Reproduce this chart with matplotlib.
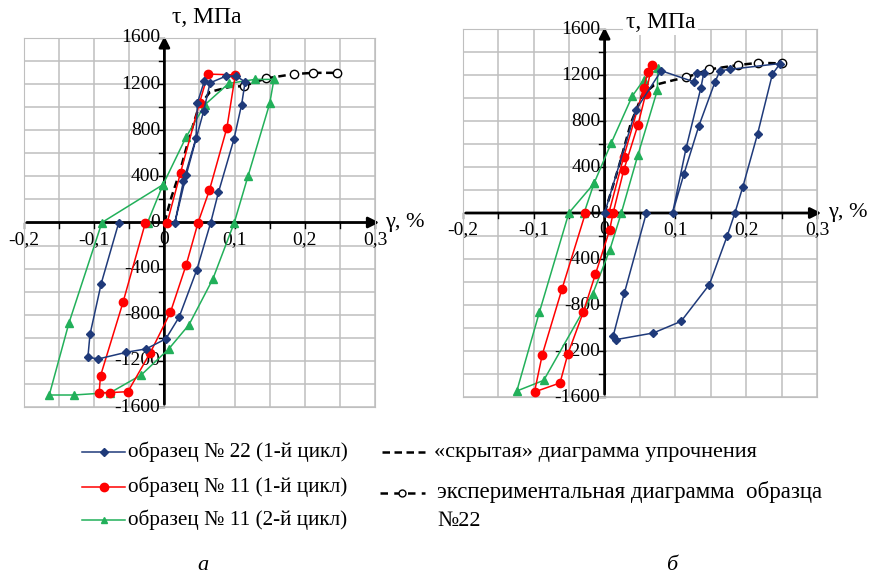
import numpy as np
import matplotlib
matplotlib.use("Agg")
import matplotlib.pyplot as plt

plt.rcParams['font.family'] = ['Liberation Serif', 'DejaVu Serif']

# ---- panel a ----
blue_a_x = [0.057, 0.047, 0.045, 0.027, 0.015, 0.031, 0.056, 0.065, 0.088, 0.102, 0.115, 0.110,
            0.099, 0.077, 0.066, 0.046, 0.021, 0.002, -0.026, -0.054, -0.094, -0.109, -0.106,
            -0.090, -0.065]
blue_a_y = [1229, 1037, 733, 357, 0, 409, 968, 1211, 1270, 1270, 1220, 1023,
            721, 262, 0, -413, -820, -1009, -1096, -1125, -1183, -1169, -971,
            -529, 0]

red_a_x = [0.004, 0.023, 0.050, 0.062, 0.101, 0.089, 0.064, 0.048, 0.031, 0.0085, -0.020,
           -0.052, -0.077, -0.093, -0.091, -0.059, -0.027]
red_a_y = [0, 432, 1037, 1287, 1280, 820, 278, 0, -368, -780, -1128,
           -1467, -1475, -1475, -1330, -693, 0]

green_a_x = [-0.024, -0.002, 0.031, 0.058, 0.0915, 0.129, 0.156, 0.150, 0.119, 0.0996, 0.069,
             0.035, 0.006, -0.033, -0.077, -0.129, -0.164, -0.136, -0.089, -0.002]
green_a_y = [0, 328, 742, 1023, 1206, 1241, 1241, 1032, 400, 0, -490,
             -887, -1098, -1322, -1475, -1496, -1496, -872, 0, 328]

hidden_a_x = [0.0, 0.010, 0.022, 0.035, 0.049, 0.065, 0.094, 0.113]
hidden_a_y = [0, 220, 440, 730, 1003, 1133, 1177, 1183]

exper_a_x = [0.113, 0.145, 0.184, 0.212, 0.246]
exper_a_y = [1183, 1250, 1287, 1298, 1298]

# ---- panel b ----
blue_b_x = [0.0, 0.044, 0.080, 0.126, 0.130, 0.140, 0.136, 0.115, 0.096, 0.112, 0.133, 0.156,
            0.163, 0.177, 0.248, 0.237, 0.216, 0.195, 0.184, 0.173, 0.148, 0.108, 0.069,
            0.016, 0.012, 0.028, 0.059]
blue_b_y = [0, 895, 1237, 1141, 1219, 1214, 1089, 561, 0, 338, 755, 1141,
            1237, 1249, 1300, 1208, 686, 222, 0, -202, -622, -942, -1043,
            -1101, -1072, -695, 0]

red_b_x = [0.006, 0.027, 0.055, 0.061, 0.067, 0.058, 0.047, 0.027, 0.012, 0.007, -0.013,
           -0.030, -0.052, -0.063, -0.099, -0.088, -0.060, -0.027]
red_b_y = [0, 488, 1083, 1228, 1286, 1034, 764, 372, 0, -150, -533,
           -860, -1228, -1478, -1556, -1231, -657, 0]

green_b_x = [-0.029, -0.015, 0.0095, 0.039, 0.055, 0.075, 0.0745, 0.047, 0.0236, 0.0075,
             -0.017, -0.086, -0.124, -0.092, -0.0505, -0.015]
green_b_y = [0, 257, 610, 1016, 1155, 1257, 1068, 503, 0, -318,
             -707, -1455, -1548, -860, 0, 257]

hidden_b_x = [0.0, 0.020, 0.037, 0.053, 0.070, 0.098, 0.115]
hidden_b_y = [0, 401, 779, 1025, 1112, 1156, 1179]

exper_b_x = [0.115, 0.148, 0.188, 0.217, 0.250]
exper_b_y = [1179, 1249, 1286, 1306, 1301]

x_labels = ['-0,2', '-0,1', '0', '0,1', '0,2', '0,3']
x_label_pos = [-0.2, -0.1, 0.0, 0.1, 0.2, 0.3]
y_label_pos = [1600, 1200, 800, 400, 0, -400, -800, -1200, -1600]

c_blue = '#1F3A7A'
c_red = '#FF0000'
c_green = '#22B05A'
grid_c = '#BFBFBF'

fig = plt.figure(figsize=(8.73, 5.76), dpi=100)

# background axes for legend / captions (pixel coords)
leg = fig.add_axes([0, 0, 1, 1])
leg.set_xlim(0, 873)
leg.set_ylim(576, 0)
leg.axis('off')

ax_a = fig.add_axes([24 / 873, 1 - 407 / 576, 351 / 873, 369 / 576])
ax_b = fig.add_axes([463 / 873, 1 - 397 / 576, 354 / 873, 368 / 576])


def style_axes(ax, title_x, title_y):
    ax.set_xlim(-0.2, 0.3)
    ax.set_ylim(-1600, 1600)
    ax.set_xticks(np.arange(-0.2, 0.301, 0.05))
    ax.set_yticks(np.arange(-1600, 1601, 200))
    ax.grid(True, color=grid_c, lw=1.1)
    ax.tick_params(length=0, labelbottom=False, labelleft=False)
    for s in ax.spines.values():
        s.set_color(grid_c)
    ax.set_axisbelow(True)
    ax.patch.set_alpha(0)

    # black axes with arrows
    ax.annotate('', xy=(0.31, 0), xytext=(-0.2, 0),
                arrowprops=dict(arrowstyle='-|>', color='black', lw=2, mutation_scale=16),
                annotation_clip=False, zorder=2)
    ax.annotate('', xy=(0, 1640), xytext=(0, -1600),
                arrowprops=dict(arrowstyle='-|>', color='black', lw=2, mutation_scale=16),
                annotation_clip=False, zorder=2)
    for yv in np.arange(-1600, 1601, 200):
        if yv != 0:
            ax.plot([-0.008, 0], [yv, yv], color='black', lw=1, zorder=2, clip_on=False)
    for xv in np.arange(-0.2, 0.301, 0.05):
        if abs(xv) > 1e-9:
            ax.plot([xv, xv], [-45, 0], color='black', lw=1, zorder=2, clip_on=False)

    for xv, lab in zip(x_label_pos, x_labels):
        ax.annotate(lab, xy=(xv, 0), xytext=(0, -6), textcoords='offset points',
                    ha='center', va='top', fontsize=14, annotation_clip=False)
    for yv in y_label_pos:
        ax.annotate(str(yv), xy=(0, yv), xytext=(-3, 0), textcoords='offset points',
                    ha='right', va='center', fontsize=14, annotation_clip=False)

    ax.text(title_x, title_y, 'τ, МПа', fontsize=17, ha='left', va='center',
            bbox=dict(facecolor='white', edgecolor='none', pad=2), clip_on=False)
    ax.text(0.315, 0, 'γ, %', fontsize=16, ha='left', va='center', clip_on=False)


def draw_data(ax, bx, by, rx, ry, gx, gy, hx, hy, ex, ey):
    ax.plot(hx, hy, color='black', lw=1.8, ls=(0, (3, 1.8)), zorder=3)
    ax.plot(ex, ey, color='black', lw=1.8, ls=(0, (3, 1.8)), marker='o', ms=6,
            mfc='white', mec='black', mew=1, zorder=3, clip_on=False)
    ax.plot(gx, gy, color=c_green, lw=1.1, marker='^', ms=6, zorder=4, clip_on=False)
    ax.plot(bx, by, color=c_blue, lw=1.1, marker='D', ms=4.5, zorder=5, clip_on=False)
    ax.plot(rx, ry, color=c_red, lw=1.1, marker='o', ms=6, zorder=4, clip_on=False)


style_axes(ax_a, 0.011, 1780)
style_axes(ax_b, 0.030, 1660)
draw_data(ax_a, blue_a_x, blue_a_y, red_a_x, red_a_y, green_a_x, green_a_y,
          hidden_a_x, hidden_a_y, exper_a_x, exper_a_y)
draw_data(ax_b, blue_b_x, blue_b_y, red_b_x, red_b_y, green_b_x, green_b_y,
          hidden_b_x, hidden_b_y, exper_b_x, exper_b_y)

# legend
legend_rows = [
    (c_blue, 'D', 4, 'образец № 22 (1-й цикл)', 452),
    (c_red, 'o', 6, 'образец № 11 (1-й цикл)', 487),
    (c_green, '^', 5, 'образец № 11 (2-й цикл)', 520),
]
for col, mk, ms, label, yy in legend_rows:
    leg.plot([82, 125], [yy, yy], color=col, lw=1.1)
    leg.plot([103.5], [yy], color=col, marker=mk, ms=ms)
    leg.text(128, yy, label, fontsize=15.3, ha='left', va='center')

leg.plot([382, 425], [452, 452], color='black', lw=1.8, ls=(0, (3, 1.8)))
leg.text(434, 452, '«скрытая» диаграмма упрочнения', fontsize=16, ha='left', va='center')
leg.plot([380, 425], [493, 493], color='black', lw=1.8, ls=(0, (3, 2.5)))
leg.plot([402], [493], marker='o', ms=5, mfc='white', mec='black')
leg.text(437, 492, 'экспериментальная диаграмма  образца', fontsize=16.5, ha='left', va='center')
leg.text(437, 521, '№22', fontsize=16, ha='left', va='center')

leg.text(203, 566, 'а', fontsize=16, style='italic', ha='center', va='center')
leg.text(672, 566, 'б', fontsize=16, style='italic', ha='center', va='center')

fig.savefig('out.png', dpi=100)
